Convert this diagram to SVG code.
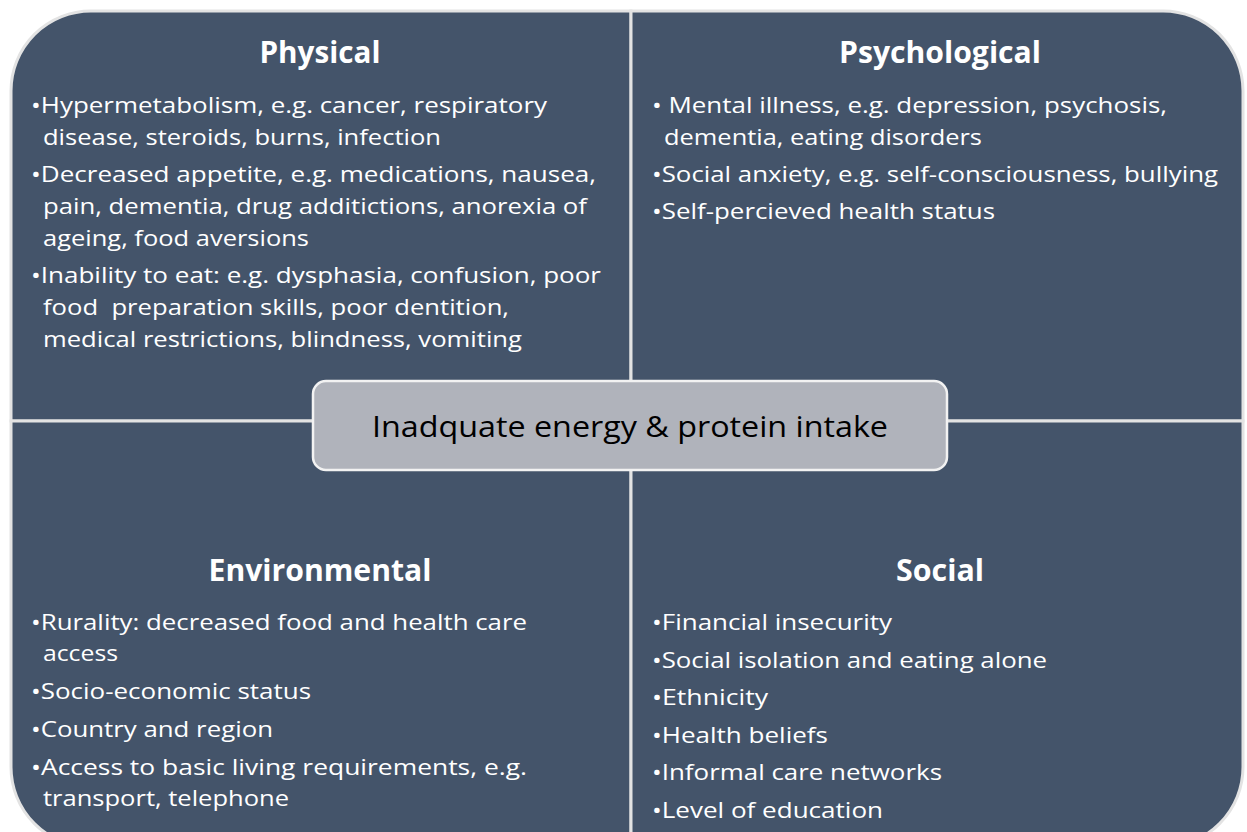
<svg xmlns="http://www.w3.org/2000/svg" width="1247" height="832" viewBox="0 0 1247 832">
<style>
.quad{fill:#44546A;stroke:#E3E3E3;stroke-width:3}
.hd{font-family:"Open Sans","Liberation Sans",sans-serif;font-weight:bold;font-size:30px;fill:#FFFFFF;text-anchor:middle}
.tx{font-family:"Open Sans","Liberation Sans",sans-serif;font-size:22px;fill:#FFFFFF;white-space:pre}
.ctr{fill:#B0B3BB;stroke:#F2F2F2;stroke-width:2.5}
.ctx{font-family:"Open Sans","Liberation Sans",sans-serif;font-size:30px;fill:#000000;text-anchor:middle}
</style>
<rect x="0" y="0" width="1247" height="832" fill="#FFFFFF"/>
<g id="physical">
<path class="quad" d="M11,91 A80,80 0 0 1 91,11 L631,11 L631,421 L11,421 Z"/>
<text class="hd" x="320" y="63" textLength="121" lengthAdjust="spacingAndGlyphs">Physical</text>
<text class="tx" x="31" y="113" textLength="516" lengthAdjust="spacingAndGlyphs">•Hypermetabolism, e.g. cancer, respiratory</text>
<text class="tx" x="43" y="145" textLength="398" lengthAdjust="spacingAndGlyphs">disease, steroids, burns, infection</text>
<text class="tx" x="31" y="182" textLength="565" lengthAdjust="spacingAndGlyphs">•Decreased appetite, e.g. medications, nausea,</text>
<text class="tx" x="43" y="214" textLength="544" lengthAdjust="spacingAndGlyphs">pain, dementia, drug additictions, anorexia of</text>
<text class="tx" x="43" y="246" textLength="266" lengthAdjust="spacingAndGlyphs">ageing, food aversions</text>
<text class="tx" x="31" y="283" textLength="570" lengthAdjust="spacingAndGlyphs">•Inability to eat: e.g. dysphasia, confusion, poor</text>
<text class="tx" x="43" y="315" textLength="466" lengthAdjust="spacingAndGlyphs">food  preparation skills, poor dentition,</text>
<text class="tx" x="43" y="347" textLength="479" lengthAdjust="spacingAndGlyphs">medical restrictions, blindness, vomiting</text>
</g>
<g id="psychological">
<path class="quad" d="M631,11 L1163,11 A80,80 0 0 1 1243,91 L1243,421 L631,421 Z"/>
<text class="hd" x="940" y="63" textLength="202" lengthAdjust="spacingAndGlyphs">Psychological</text>
<text class="tx" x="652" y="113" textLength="515" lengthAdjust="spacingAndGlyphs">• Mental illness, e.g. depression, psychosis,</text>
<text class="tx" x="664" y="145" textLength="318" lengthAdjust="spacingAndGlyphs">dementia, eating disorders</text>
<text class="tx" x="652" y="182" textLength="566" lengthAdjust="spacingAndGlyphs">•Social anxiety, e.g. self-consciousness, bullying</text>
<text class="tx" x="652" y="219" textLength="343" lengthAdjust="spacingAndGlyphs">•Self-percieved health status</text>
</g>
<g id="environmental">
<path class="quad" d="M11,421 L631,421 L631,847 L91,847 A80,80 0 0 1 11,767 Z"/>
<text class="hd" x="320" y="581" textLength="223" lengthAdjust="spacingAndGlyphs">Environmental</text>
<text class="tx" x="31" y="630" textLength="496" lengthAdjust="spacingAndGlyphs">•Rurality: decreased food and health care</text>
<text class="tx" x="43" y="661" textLength="75" lengthAdjust="spacingAndGlyphs">access</text>
<text class="tx" x="31" y="699" textLength="280" lengthAdjust="spacingAndGlyphs">•Socio-economic status</text>
<text class="tx" x="31" y="737" textLength="242" lengthAdjust="spacingAndGlyphs">•Country and region</text>
<text class="tx" x="31" y="775" textLength="496" lengthAdjust="spacingAndGlyphs">•Access to basic living requirements, e.g.</text>
<text class="tx" x="43" y="806" textLength="246" lengthAdjust="spacingAndGlyphs">transport, telephone</text>
</g>
<g id="social">
<path class="quad" d="M631,421 L1243,421 L1243,767 A80,80 0 0 1 1163,847 L631,847 Z"/>
<text class="hd" x="940" y="581" textLength="88" lengthAdjust="spacingAndGlyphs">Social</text>
<text class="tx" x="652" y="630" textLength="240" lengthAdjust="spacingAndGlyphs">•Financial insecurity</text>
<text class="tx" x="652" y="668" textLength="395" lengthAdjust="spacingAndGlyphs">•Social isolation and eating alone</text>
<text class="tx" x="652" y="705" textLength="116" lengthAdjust="spacingAndGlyphs">•Ethnicity</text>
<text class="tx" x="652" y="743" textLength="176" lengthAdjust="spacingAndGlyphs">•Health beliefs</text>
<text class="tx" x="652" y="780" textLength="290" lengthAdjust="spacingAndGlyphs">•Informal care networks</text>
<text class="tx" x="652" y="818" textLength="231" lengthAdjust="spacingAndGlyphs">•Level of education</text>
</g>
<g id="connectors"></g>
<g id="center">
<rect class="ctr" x="313" y="381" width="634" height="89" rx="13" ry="13"/>
<text class="ctx" x="630" y="437" textLength="516" lengthAdjust="spacingAndGlyphs">Inadquate energy &amp; protein intake</text>
</g>
</svg>
